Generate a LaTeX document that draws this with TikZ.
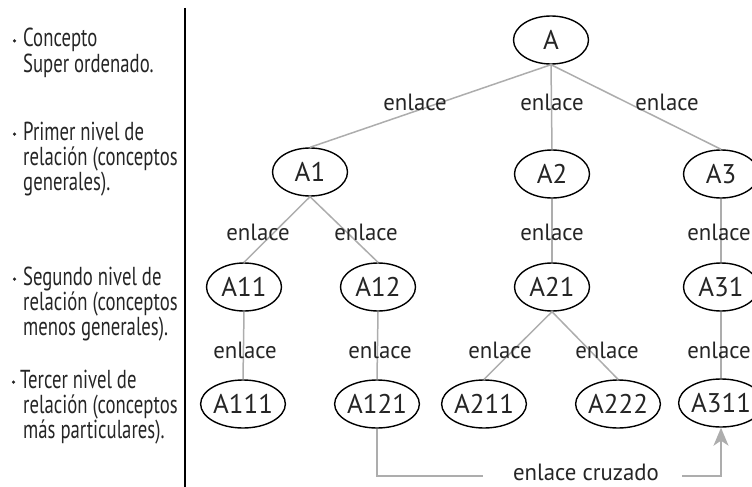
\documentclass[tikz,border=0pt]{standalone}
\usepackage{fontspec}
\setmainfont{PT Sans}
\newfontfamily\leftfont[FakeStretch=0.72]{PT Sans}
\newfontfamily\linkfont[FakeStretch=0.97]{PT Sans}
\usetikzlibrary{arrows.meta,shapes.geometric}
\definecolor{txt}{HTML}{252525}
\definecolor{lnk}{HTML}{ADADAD}
\begin{document}
\begin{tikzpicture}[x=1pt,y=-1pt,
  concept/.style={ellipse,draw=black,line width=1.4pt,minimum width=75pt,minimum height=48pt,inner sep=0pt,text=txt,font=\fontsize{27}{27}\selectfont},
  link/.style={draw=lnk,line width=1.5pt},
  lbl/.style={text=txt,font=\linkfont\fontsize{23.5}{23.5}\selectfont,inner sep=0pt},
  side/.style={text=txt,font=\leftfont\fontsize{26}{25}\selectfont,anchor=base west,inner sep=0pt},
  bul/.style={circle,fill=txt,inner sep=0pt,minimum size=3.5pt}
]
\useasboundingbox (0,0) rectangle (752,487);
\clip (0,0) rectangle (752,487);

% left column
\draw[line width=1.5pt,black] (185,8) -- (185,487);
\node[bul] (b1) at (14.5,41) {};
\node[side] (t11) at (23,47) {Concepto};
\node[side] (t12) at (23,72) {Super ordenado.};
\node[bul] (b2) at (14.5,134) {};
\node[side] (t21) at (23,140) {Primer nivel de};
\node[side] (t22) at (23,165) {relación (conceptos};
\node[side] (t23) at (23,190) {generales).};
\node[bul] (b3) at (14.5,279) {};
\node[side] (t31) at (23,285) {Segundo nivel de};
\node[side] (t32) at (23,310) {relación (conceptos};
\node[side] (t33) at (23,335) {menos generales).};
\node[bul] (b4) at (13.5,382) {};
\node[side] (t41) at (20,388) {Tercer nivel de};
\node[side] (t42) at (23,413) {relación (conceptos};
\node[side] (t43) at (23,438) {más particulares).};

% concepts
\node[concept] (A) at (551,40) {A};
\node[concept] (A1) at (310,172) {A1};
\node[concept] (A2) at (552,174) {A2};
\node[concept] (A3) at (721,174) {A3};
\node[concept] (A11) at (244,287) {A11};
\node[concept] (A12) at (378,287) {A12};
\node[concept] (A21) at (552,287) {A21};
\node[concept] (A31) at (721,287) {A31};
\node[concept] (A111) at (243,404) {A111};
\node[concept] (A121) at (377,404) {A121};
\node[concept] (A211) at (484,404) {A211};
\node[concept] (A222) at (618,404) {A222};
\node[concept] (A311) at (721,403) {A311};

% links
\draw[link] (A.south) -- (A1.north);
\draw[link] (A.south) -- (A2.north);
\draw[link] (A.south) -- (A3.north);
\draw[link] (A1.south) -- (A11.north);
\draw[link] (A1.south) -- (A12.north);
\draw[link] (A2.south) -- (A21.north);
\draw[link] (A3.south) -- (A31.north);
\draw[link] (A11.south) -- (A111.north);
\draw[link] (A12.south) -- (A121.north);
\draw[link] (A21.south) -- (A211.north);
\draw[link] (A21.south) -- (A222.north);
\draw[link] (A31.south) -- (A311.north);

% link labels
\node[lbl] (l1) at (415,102) {enlace};
\node[lbl] (l2) at (552,102) {enlace};
\node[lbl] (l3) at (667,102) {enlace};
\node[lbl] (l4) at (258,232) {enlace};
\node[lbl] (l5) at (366,232) {enlace};
\node[lbl] (l6) at (552,232) {enlace};
\node[lbl] (l7) at (719,232) {enlace};
\node[lbl] (l8) at (245,350) {enlace};
\node[lbl] (l9) at (380,350) {enlace};
\node[lbl] (l10) at (500,350) {enlace};
\node[lbl] (l11) at (607,350) {enlace};
\node[lbl] (l12) at (719,350) {enlace};

% cross link
\node[lbl] (cz) at (586,472) {enlace cruzado};
\coordinate (c1) at (483,476);
\coordinate (c2) at (682,476);
\draw[link] (A121.south) |- (c1);
\draw[link,-{Stealth[length=18pt,width=15pt,inset=5pt]}] (c2) -| (A311.south);
\end{tikzpicture}
\end{document}
